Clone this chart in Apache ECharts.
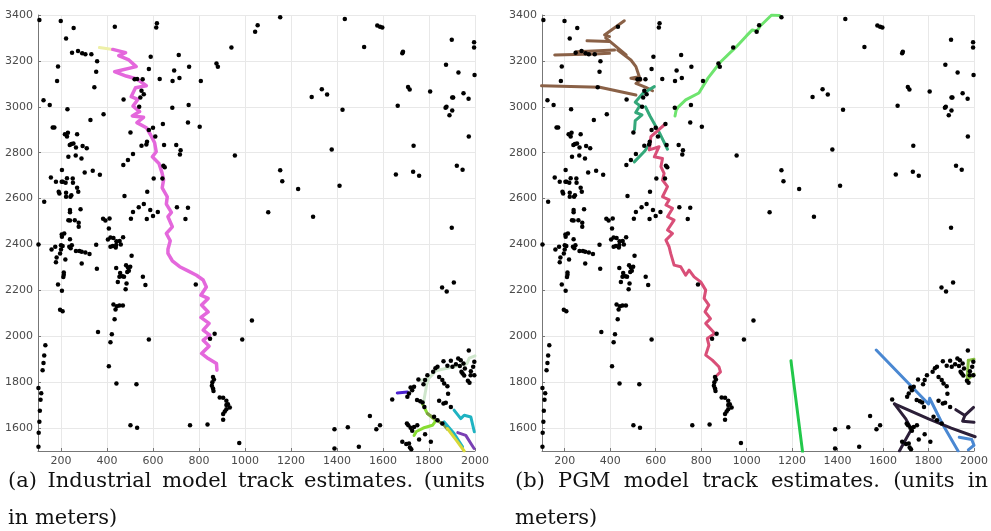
<!DOCTYPE html>
<html>
<head>
<meta charset="utf-8">
<script src="https://cdn.jsdelivr.net/npm/echarts@6/dist/echarts.min.js"></script>
<style>
  html, body { margin: 0; background: #fff; }
  #chart { width: 991px; height: 531px; }
</style>
</head>
<body>
<div id="chart"></div>
<script>
// tick labels
const xTicks = [200, 400, 600, 800, 1000, 1200, 1400, 1600, 1800, 2000]
const yTicks = [1600, 1800, 2000, 2200, 2400, 2600, 2800, 3000, 3200, 3400]

// captions
const captionA = ['(a) Industrial model track estimates. (units', 'in meters)']
const captionB = ['(b) PGM model track estimates. (units in', 'meters)']

// detections (same in both panels), in meters
const detections = [
  [106,3378],[199,3374],[255,3343],[222,3298],[434,3349],[617,3364],[614,3346],[941,3258],
  [248,3236],[274,3243],[292,3233],[306,3229],[332,3229],[357,3198],[187,3176],[353,3153],[183,3112],[345,3085],
  [124,3029],[151,3008],[228,2989],[164,2910],[171,2910],[328,2942],[385,2967],
  [590,3218],[582,3165],[629,3121],[520,3120],[531,3121],[555,3120],[550,3070],[560,3055],[545,3040],[472,3032],[540,3000],
  [685,3112],[692,3158],[715,3126],[712,3226],[757,3175],[808,3112],[876,3189],[882,3175],[684,2996],[755,3008],
  [752,2931],[803,2913],[956,2788],[643,2925],[582,2899],[600,2909],[502,2888],[610,2870],[550,2830],[571,2836],
  [574,2848],[648,2833],[701,2833],[720,2811],[717,2792],[513,2794],[491,2768],[471,2746],[645,2743],[651,2736],
  [641,2688],[603,2688],[575,2630],[476,2611],[560,2576],[538,2562],[513,2541],[588,2550],[621,2542],[600,2524],
  [704,2562],[752,2560],[741,2511],[504,2512],[573,2511],[415,2430],[404,2422],[383,2512],[411,2513],[393,2505],[408,2470],
  [428,2428],[440,2398],[455,2415],[470,2432],
  [217,2880],[230,2887],[226,2870],[270,2880],[245,2838],[238,2833],[254,2840],[265,2823],[294,2829],[312,2819],
  [232,2782],[264,2788],[289,2775],[204,2724],[156,2692],[178,2673],[203,2673],[208,2673],[226,2689],[251,2688],
  [252,2669],[220,2669],[303,2714],[338,2721],[369,2704],[270,2647],[275,2630],[190,2630],[193,2622],[222,2625],
  [241,2608],[245,2615],[222,2608],[127,2586],[285,2553],[239,2550],[239,2540],[232,2506],[239,2505],[260,2506],
  [277,2495],[277,2477],[214,2448],[203,2444],[204,2434],[239,2423],[200,2397],[102,2400],
  [159,2378],[175,2390],[207,2393],[200,2378],[236,2390],[242,2384],[247,2397],[265,2372],[280,2372],[290,2368],
  [196,2361],[181,2343],[178,2323],[219,2335],[212,2278],[212,2268],[210,2258],[187,2226],[204,2198],[196,2115],
  [207,2109],[306,2365],[324,2359],[290,2317],[353,2399],[356,2294],[415,2390],[425,2393],[438,2387],[441,2414],[460,2400],
  [440,2297],[457,2276],[454,2259],[447,2237],[467,2262],[483,2310],[491,2300],[495,2285],[501,2303],[488,2280],
  [485,2230],[481,2205],[507,2351],[474,2259],[556,2259],[567,2223],[428,2138],[443,2131],[454,2134],[469,2134],
  [437,2117],[433,2074],[361,2019],[421,2009],[415,1974],[582,1986],[408,1869],[441,1794],[528,1791],
  [132,1961],[127,1916],[124,1884],[120,1852],[102,1774],[114,1752],[111,1723],[108,1675],[106,1627],[103,1580],[102,1518],
  [502,1612],[531,1601],[761,1612],[837,1615],[905,1636],[975,1535],[988,1986],[848,1989],[868,2011],[786,2226],
  [861,1823],[865,1812],[858,1800],[856,1784],[861,1772],[863,1761],[890,1733],[905,1732],[919,1719],[926,1704],
  [934,1690],[919,1682],[912,1672],[905,1661],[919,1700],
  [1044,3327],[1055,3355],[1153,3390],[1434,3383],[1575,3354],[1587,3349],[1597,3345],[1518,3261],[1687,3240],[1684,3233],
  [1899,3292],[1996,3281],[1996,3258],[1874,3183],[1928,3149],[1998,3138],[1290,3043],[1334,3076],[1357,3054],[1424,2987],
  [1709,3086],[1716,3075],[1805,3067],[1664,3005],[1876,3000],[1872,2996],[1901,3041],[1905,3041],[1901,2984],[1889,2963],
  [1950,3059],[1972,3035],[1973,2870],[1733,2830],[1377,2814],[1153,2723],[1162,2676],[1231,2642],[1411,2656],[1656,2705],
  [1731,2717],[1757,2700],[1921,2743],[1946,2726],[1101,2540],[1296,2521],[1899,2473],
  [1857,2213],[1877,2195],[1908,2234],[1030,2069],[1973,1938],[1863,1891],[1880,1871],[1895,1893],[1902,1867],[1917,1878],
  [1927,1903],[1938,1896],[1950,1881],[1934,1870],[1956,1860],[1941,1845],[1946,1838],[1953,1829],[1982,1848],[1992,1867],
  [1997,1889],[1981,1830],[1969,1806],[1976,1797],[1997,1830],[1828,1861],[1837,1867],[1818,1845],[1844,1823],[1858,1809],
  [1866,1794],[1880,1782],[1883,1750],[1754,1812],[1776,1791],[1783,1809],[1793,1830],[1735,1780],[1720,1777],[1727,1765],
  [1713,1751],[1706,1736],[1748,1722],[1762,1717],[1772,1711],[1780,1692],[1844,1719],[1863,1707],[1873,1710],[1895,1692],
  [1640,1724],[1543,1653],[1587,1612],[1571,1595],[1447,1604],[1389,1595],[1389,1511],[1495,1518],[1704,1620],[1710,1612],
  [1720,1601],[1727,1588],[1783,1573],[1757,1550],[1808,1540],[1684,1540],[1701,1530],[1713,1533],[1717,1515],[1723,1508],
  [1735,1605],[1749,1612],[1822,1649],[1837,1634],[1858,1620]
]

// (a) industrial model tracks
const indStart = [[367,3258],[425,3250]]
const indMain = [
  [425,3250],[481,3236],[451,3223],[495,3204],[527,3175],[433,3153],[483,3134],[530,3121],[571,3092],[524,3083],
  [505,3044],[534,3032],[513,3003],[542,2979],[510,2960],[559,2954],[530,2931],[571,2909],[590,2877],[607,2843],
  [614,2804],[597,2782],[626,2753],[639,2713],[646,2681],[640,2647],[662,2608],[658,2576],[680,2540],[665,2521],
  [684,2477],[658,2448],[675,2416],[665,2379],[665,2361],[684,2329],[716,2303],[752,2285],[789,2266],[818,2245],
  [832,2215],[808,2179],[840,2165],[811,2136],[840,2106],[808,2082],[844,2056],[818,2027],[847,2005],[818,1983],
  [844,1957],[811,1925],[840,1903],[876,1881],[878,1852]
]
const indPale = [[1775,1705],[1790,1790],[1798,1815],[1830,1850],[1910,1868],[1965,1880],[1975,1905],[2000,1915]]
const indPaleBranch = [[1798,1815],[1765,1808]]
const indIndigo = [[1662,1753],[1706,1757]]
const indLime = [[1771,1707],[1793,1663],[1830,1632],[1815,1612],[1775,1600],[1745,1585],[1735,1568]]
const indOlive = [[1793,1663],[1866,1612],[1880,1595]]
const indTeal = [[1909,1678],[1938,1641],[1953,1656],[1982,1648],[1997,1584]]
const indTeal2 = [[1866,1627],[1909,1576],[1946,1518]]
const indPurple = [[1925,1580],[1960,1568],[1982,1533],[1996,1511]]
const indYellow = [[1880,1598],[1920,1545],[1953,1500]]

// (b) PGM model tracks
const pgmBrown1 = [[462,3375],[375,3313],[397,3306]]
const pgmBrown2 = [[380,3300],[470,3226]]
const pgmBrown3 = [[298,3288],[397,3284]]
const pgmBrown4 = [[156,3226],[330,3230],[397,3233]]
const pgmBrown5 = [[251,3240],[419,3247]]
const pgmBrown6 = [[433,3247],[491,3204],[513,3175],[528,3131],[491,3124],[535,3117],[513,3102],[557,3085],[586,3070]]
const pgmBrown7 = [[98,3092],[354,3085],[400,3075],[513,3051]]
const pgmTeal1 = [[594,3088],[543,3058],[510,3020],[530,3005],[512,2975],[540,2965],[510,2940],[507,2900]]
const pgmTeal2 = [[506,2760],[550,2805],[575,2840]]
const pgmTeal3 = [[555,3000],[575,2960],[620,2880],[652,2815]]
const pgmPink = [
  [642,2925],[579,2870],[572,2812],[615,2826],[594,2782],[630,2775],[623,2739],[637,2710],[630,2681],[652,2652],
  [630,2608],[659,2594],[645,2572],[674,2557],[652,2521],[681,2506],[652,2463],[674,2448],[645,2419],[659,2390],
  [666,2361],[681,2310],[710,2303],[732,2266],[747,2288],[769,2259],[798,2237],[820,2201],[813,2165],[834,2136],
  [817,2107],[841,2077],[820,2056],[860,2012],[827,1990],[834,1961],[820,1918],[849,1896],[878,1867],[885,1845],[870,1830]
]
const pgmLight = [
  [685,2960],[690,2985],[700,3000],[732,3030],[790,3060],[830,3125],[885,3195],[955,3262],[1000,3310],[1025,3335],
  [1045,3330],[1060,3352],[1110,3400],[1145,3398]
]
const pgmGreen = [[1195,1893],[1246,1496]]
const pgmBlue = [[1570,1940],[1800,1705],[1805,1730],[1860,1620],[1930,1500]]
const pgmBlue2 = [[1935,1560],[1990,1550],[2000,1525],[1975,1505]]
const pgmDark1 = [[1650,1705],[1800,1640],[1900,1600],[2005,1562]]
const pgmDark2 = [[1650,1705],[1700,1640],[1725,1595],[1705,1560],[1672,1500]]
const pgmDark3 = [[1920,1680],[1960,1655],[1998,1690]]
const pgmDark4 = [[1960,1655],[1950,1630],[2000,1625]]
const pgmOlive = [[1975,1895],[1970,1810],[2000,1835]]
const pgmOlive2 = [[1975,1895],[2000,1900]]

const chart = echarts.init(document.getElementById('chart'))

const axisFont = 'DejaVu Sans'
const makeX = (gridIndex) => ({
  type: 'value', gridIndex, min: 100, max: 2000,
  axisLine: { show: true, onZero: false, lineStyle: { color: '#777', width: 1 } },
  axisTick: { show: true, inside: true, length: 3, customValues: xTicks, lineStyle: { color: '#777' } },
  axisLabel: { customValues: xTicks, formatter: v => String(v), color: '#4a4a4a', fontSize: 11, fontFamily: axisFont, margin: 5 },
  splitLine: { show: true, lineStyle: { color: '#e8e8e8', width: 1 } }
})
const makeY = (gridIndex) => ({
  type: 'value', gridIndex, min: 1500, max: 3400,
  axisLine: { show: true, onZero: false, lineStyle: { color: '#777', width: 1 } },
  axisTick: { show: true, inside: true, length: 3, customValues: yTicks, lineStyle: { color: '#777' } },
  axisLabel: { customValues: yTicks, formatter: v => String(v), color: '#4a4a4a', fontSize: 11, fontFamily: axisFont, margin: 5 },
  splitLine: { show: true, lineStyle: { color: '#e8e8e8', width: 1 } }
})

const track = (data, color, idx, width) => ({
  type: 'line', data, xAxisIndex: idx, yAxisIndex: idx,
  showSymbol: false, symbol: 'none', z: 3,
  lineStyle: { color, width: width || 3, join: 'round', cap: 'round', opacity: 1 }
})
const dots = (idx) => ({
  type: 'scatter', data: detections, xAxisIndex: idx, yAxisIndex: idx,
  symbolSize: 4.5, itemStyle: { color: '#000', opacity: 1 }, z: 4
})

// justified captions
const capFont = '21px "DejaVu Serif"'
const ctx = document.createElement('canvas').getContext('2d')
ctx.font = capFont
const justify = (line, x0, x1, y) => {
  const words = line.split(' ')
  const widths = words.map(w => ctx.measureText(w).width)
  const total = widths.reduce((a, b) => a + b, 0)
  const gap = (x1 - x0 - total) / (words.length - 1)
  let x = x0
  return words.map((w, i) => {
    const el = { type: 'text', x, y, style: { text: w, font: capFont, fill: '#111', verticalAlign: 'middle', textVerticalAlign: 'middle' } }
    x += widths[i] + gap
    return el
  })
}
const plain = (line, x0, y) => [{ type: 'text', x: x0, y, style: { text: line, font: capFont, fill: '#111', verticalAlign: 'middle', textVerticalAlign: 'middle' } }]

const graphics = [
  ...justify(captionA[0], 8, 485, 482),
  ...plain(captionA[1], 8, 519),
  ...justify(captionB[0], 515, 988, 482),
  ...plain(captionB[1], 515, 519)
]

chart.setOption({
  animation: false,
  backgroundColor: '#fff',
  grid: [
    { left: 38, top: 15, width: 437, height: 436 },
    { left: 542, top: 15, width: 435, height: 436 }
  ],
  xAxis: [makeX(0), makeX(1)],
  yAxis: [makeY(0), makeY(1)],
  graphic: graphics,
  series: [
    track(indStart, '#eef0a8', 0),
    track(indMain, '#e468dc', 0, 3.5),
    track(indPale, '#cfe6cc', 0),
    track(indPaleBranch, '#cfe6cc', 0),
    track(indIndigo, '#4b22d0', 0),
    track(indLime, '#88dd33', 0),
    track(indOlive, '#7f9c45', 0),
    track(indTeal, '#1fb3c2', 0),
    track(indTeal2, '#1fb3c2', 0),
    track(indPurple, '#7a40b4', 0),
    track(indYellow, '#d8d838', 0),
    dots(0),
    track(pgmBrown1, '#8a6147', 1),
    track(pgmBrown2, '#8a6147', 1),
    track(pgmBrown3, '#8a6147', 1),
    track(pgmBrown4, '#8a6147', 1),
    track(pgmBrown5, '#8a6147', 1),
    track(pgmBrown6, '#8a6147', 1),
    track(pgmBrown7, '#8a6147', 1),
    track(pgmTeal1, '#34a87a', 1),
    track(pgmTeal2, '#34a87a', 1),
    track(pgmTeal3, '#34a87a', 1),
    track(pgmPink, '#d94f78', 1),
    track(pgmLight, '#6ee46e', 1),
    track(pgmGreen, '#22c84a', 1),
    track(pgmBlue, '#4a88d2', 1),
    track(pgmBlue2, '#4a88d2', 1),
    track(pgmDark1, '#2c1f38', 1),
    track(pgmDark2, '#2c1f38', 1),
    track(pgmDark3, '#2c1f38', 1),
    track(pgmDark4, '#2c1f38', 1),
    track(pgmOlive, '#86c040', 1),
    track(pgmOlive2, '#86c040', 1),
    dots(1)
  ]
})

window.addEventListener('resize', () => chart.resize())
</script>
</body>
</html>
